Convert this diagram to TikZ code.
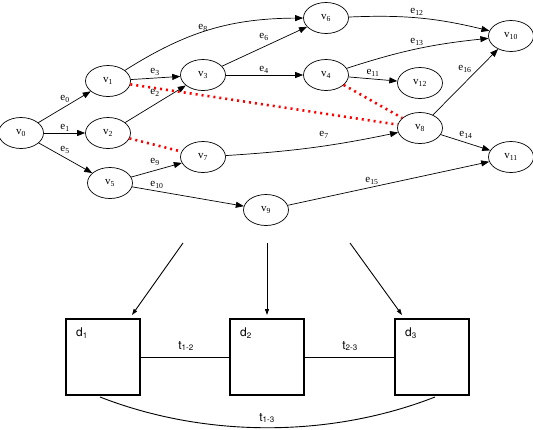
\documentclass[tikz,border=0pt]{standalone}
\usepackage{fontspec}
\setmainfont{Liberation Serif}
\newfontfamily\helv{TeX Gyre Heros}
\usetikzlibrary{arrows.meta,shapes.geometric}
\newcommand\sbs[1]{\textsubscript{#1}}
\tikzset{
  vert/.style={draw,ellipse,line width=0.7pt,minimum width=45pt,minimum height=31pt,inner sep=0pt,font=\fontsize{11}{12}\selectfont},
  elab/.style={inner sep=0pt,font=\fontsize{11}{12}\selectfont},
  edge/.style={line width=0.7pt,-{Triangle[length=8pt,width=6pt]}},
  reddot/.style={red,line width=2.6pt,dash pattern=on 2pt off 4pt},
  dbox/.style={draw,line width=1.1pt,minimum width=74pt,minimum height=76pt,inner sep=0pt},
  blab/.style={inner sep=0pt,font=\helv\fontsize{12}{13}\selectfont},
  barrow/.style={line width=0.9pt,-{Triangle[length=6pt,width=4pt]}},
  tline/.style={line width=0.9pt}
}
\begin{document}
\begin{tikzpicture}[x=1pt,y=1pt]
\useasboundingbox (0,0) rectangle (533,-429);
% vertices
\node[vert] (v0) at (21,-133) {v\sbs{0}};
\node[vert] (v1) at (108,-81) {v\sbs{1}};
\node[vert] (v2) at (108,-133) {v\sbs{2}};
\node[vert] (v3) at (203,-75) {v\sbs{3}};
\node[vert] (v5) at (110,-183) {v\sbs{5}};
\node[vert] (v7) at (203,-157) {v\sbs{7}};
\node[vert] (v9) at (266,-210) {v\sbs{9}};
\node[vert] (v6) at (326,-18) {v\sbs{6}};
\node[vert] (v4) at (326,-75) {v\sbs{4}};
\node[vert] (v12) at (420,-83) {v\sbs{12}};
\node[vert] (v10) at (511,-36) {v\sbs{10}};
\node[vert] (v8) at (420,-128) {v\sbs{8}};
\node[vert] (v11) at (511,-157) {v\sbs{11}};
% red dotted relations
\draw[reddot] (v1) -- (v8);
\draw[reddot] (v2) -- (v7);
\draw[reddot] (v4) -- (v8);
% edges
\draw[edge] (v0) -- (v1);
\draw[edge] (v0) -- (v2);
\draw[edge] (v0) -- (v5);
\draw[edge] (v1) -- (v3);
\draw[edge] (v2) -- (v3);
\draw[edge] (v1) to[bend left=16] (v6);
\draw[edge] (v3) -- (v6);
\draw[edge] (v3) -- (v4);
\draw[edge] (v5) -- (v7);
\draw[edge] (v5) -- (v9);
\draw[edge] (v7) to[bend right=4] (v8);
\draw[edge] (v6) to[bend left=8] (v10);
\draw[edge] (v4) to[bend left=6] (v10);
\draw[edge] (v4) -- (v12);
\draw[edge] (v8) -- (v10);
\draw[edge] (v8) -- (v11);
\draw[edge] (v9) -- (v11);
% edge labels
\node[elab] (le0) at (65,-99) {e\sbs{0}};
\node[elab] (le1) at (65,-128) {e\sbs{1}};
\node[elab] (le5) at (65,-150) {e\sbs{5}};
\node[elab] (le3) at (155,-72) {e\sbs{3}};
\node[elab] (le2) at (155,-93) {e\sbs{2}};
\node[elab] (le8) at (203,-28) {e\sbs{8}};
\node[elab] (le6) at (264,-37) {e\sbs{6}};
\node[elab] (le4) at (264,-70) {e\sbs{4}};
\node[elab] (le9) at (155,-162) {e\sbs{9}};
\node[elab] (le10) at (157,-185) {e\sbs{10}};
\node[elab] (le7) at (324,-135) {e\sbs{7}};
\node[elab] (le12) at (417,-12) {e\sbs{12}};
\node[elab] (le13) at (417,-42) {e\sbs{13}};
\node[elab] (le11) at (373,-73) {e\sbs{11}};
\node[elab] (le16) at (465,-69) {e\sbs{16}};
\node[elab] (le14) at (466,-135) {e\sbs{14}};
\node[elab] (le15) at (372,-181) {e\sbs{15}};
% bottom boxes
\node[dbox] (d1) at (103,-357) {};
\node[dbox] (d2) at (267,-357) {};
\node[dbox] (d3) at (432,-357) {};
\node[blab] (ld1) at (82,-333) {d\sbs{1}};
\node[blab] (ld2) at (246,-333) {d\sbs{2}};
\node[blab] (ld3) at (411,-333) {d\sbs{3}};
% arrows from graph
\coordinate (s1) at (183,-243);
\coordinate (s2) at (267,-243);
\coordinate (s3) at (350,-243);
\coordinate (f1) at (132,-315);
\coordinate (f2) at (267,-315);
\coordinate (f3) at (402,-315);
\draw[barrow] (s1) -- (f1);
\draw[barrow] (s2) -- (f2);
\draw[barrow] (s3) -- (f3);
% t-lines
\draw[tline] (d1) -- (d2);
\draw[tline] (d2) -- (d3);
\coordinate (a1) at (100,-397);
\coordinate (a3) at (435,-397);
\draw[tline] (a1) .. controls (205,-438) and (330,-438) .. (a3);
\node[blab] (t12) at (186,-346) {t\sbs{1-2}};
\node[blab] (t23) at (350,-346) {t\sbs{2-3}};
\node[blab] (t13) at (267,-418) {t\sbs{1-3}};
\end{tikzpicture}
\end{document}
